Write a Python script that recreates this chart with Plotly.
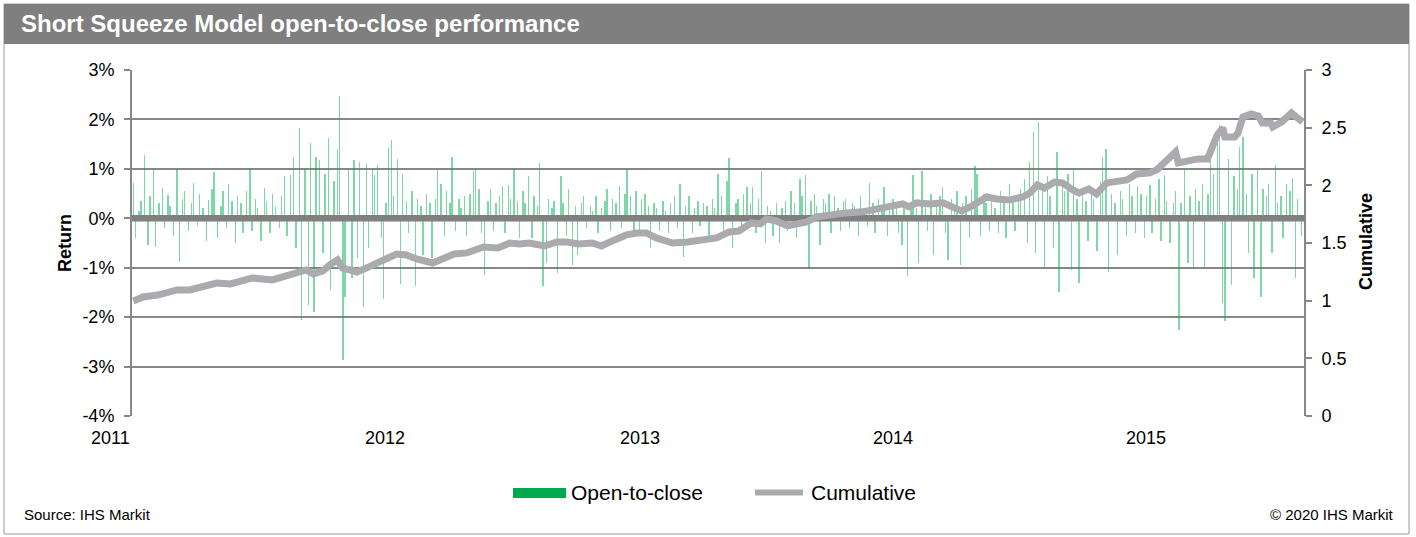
import pandas as pd
import plotly.graph_objects as go

# ---------------- data ----------------
years = [2011, 2012, 2013, 2014, 2015]

ret_2011 = [0.72, -0.40, 0.15, 0.35, 1.28, -0.55, 0.45, 0.98, -0.58, 0.30,
            0.62, -0.20, 0.48, 0.25, -0.35, 1.00, -0.88, 0.40, 0.55, -0.25,
            0.30, 0.72, -0.15, 0.50, 0.20, -0.45, 0.38, 0.60, 0.94, -0.40,
            0.25, 0.55, -0.20, 0.70, 0.35, -0.50, 0.45, 0.30, -0.30, 0.55,
            1.02, -0.25, 0.40, 0.20, -0.45, 0.62, 0.35, -0.30, 0.50, 0.25,
            -0.20, 0.45, 0.85, -0.35, 0.88, 1.25, -0.60, 1.82, -2.06, 1.00,
            -1.75, 1.52, -1.90, 1.25, 1.18, -0.70, 0.90, 1.62, -1.45, 0.75,
            1.40, 2.47, -2.87, -1.60, 1.00, -1.20, 1.18, -0.80, 1.13, -1.80,
            1.10, -0.60, 1.00, 0.87, 1.08, -0.40, -1.63]
ret_2012 = [0.30, 1.42, 1.58, 0.45, 1.20, -1.33, 0.90, 0.35, -0.30, 0.55,
            -1.37, 0.40, 0.25, -0.75, 0.50, 0.30, -0.80, 0.40, 0.97, 0.70,
            -0.35, 0.55, 0.30, 1.25, -0.25, 0.40, 0.20, 0.45, -0.35, 0.50,
            0.95, 1.00, 0.60, -0.30, -1.15, 0.35, 0.60, -0.25, 0.30, 0.45,
            0.65, -0.30, 0.68, 0.40, 1.00, 0.35, -0.40, 0.55, 0.30, 0.86,
            -0.40, 0.45, 0.25, 1.12, -1.37, -0.90, 0.40, 0.20, 0.35, -1.10,
            0.86, 0.30, -0.35, 0.60, -0.95, 0.25, -0.75, 0.30, 0.45, -0.20,
            0.25, 0.15, 0.45, -0.30, 0.20, 0.35, 0.60, -0.25, 0.40, 0.30,
            0.65, -0.20, 0.50, 1.00, 0.45, -0.35, 0.55]
ret_2013 = [-0.30, 0.40, 0.50, 0.25, -0.60, 0.30, 0.20, -0.25, 0.35, 0.15,
            -0.30, 0.30, 0.45, -0.20, 0.70, -0.78, 0.25, 0.45, -0.30, 0.20,
            0.35, -0.15, 0.30, 0.25, -0.35, 0.40, 0.20, 0.90, 0.45, -0.25,
            0.75, 1.22, -0.60, 0.30, 0.40, -0.20, 0.50, 0.63, 0.30, 0.63,
            -0.30, 0.40, 0.95, -0.50, 0.25, 0.15, -0.35, 0.30, -0.50, 0.20,
            0.35, -0.25, 0.55, 0.30, -0.40, 0.80, 0.45, 0.87, -1.00, 0.35,
            0.50, 0.25, -0.55, 0.40, 0.30, 0.50, -0.30, 0.45, 0.20, -0.25,
            0.35, 0.40, -0.20, 0.30, 0.25, -0.35, 0.45, 0.20, -0.15, 0.72,
            0.30, -0.30, 0.40, 0.25, 0.63, -0.35, 0.30]
ret_2014 = [0.40, 0.25, -0.30, -0.55, 0.35, -1.17, 0.30, 0.87, 0.20, -0.90,
            0.95, 0.35, -0.25, 0.50, -0.75, 0.30, 0.45, 0.63, -0.30, -0.85,
            0.40, 0.25, 0.55, -0.95, 0.30, 0.45, -0.40, 0.60, 1.05, 0.90,
            -0.35, 0.50, 0.30, -0.25, 0.45, 0.20, -0.30, 0.55, 0.35, -0.40,
            0.70, 0.30, -0.25, 0.45, 0.60, 0.80, -0.50, 1.14, 1.74, -0.70,
            1.95, 0.60, -1.00, 0.85, 0.45, -0.60, 1.35, -1.49, 0.70, 0.55,
            0.90, -1.05, 1.02, 0.40, -1.30, 0.50, 0.35, -0.45, 0.60, 0.40,
            -0.66, 0.75, 1.25, 1.40, -1.08, 0.50, 0.30, -0.75, 0.55, 0.40,
            -0.35, 0.70, 0.45, -0.30, 0.65, 0.50, -0.40]
ret_2015 = [0.45, 0.68, -0.30, 0.40, 0.80, -0.45, 0.88, 0.35, -0.50, 0.30,
            0.55, -2.26, 0.30, 1.00, -0.90, 0.45, -1.00, 0.60, 0.35, 0.70,
            -1.00, 0.50, 1.28, 0.90, 1.52, 1.88, -1.72, -2.08, 1.20, -1.35,
            0.85, 0.60, 1.45, 1.65, 0.50, -0.70, 0.90, -1.20, 1.00, -1.60,
            0.60, 0.45, 0.70, -0.70, 1.08, 0.30, 0.45, -0.40, 0.70, 0.55,
            0.82, -1.20, 0.40, -0.35]

# cumulative performance (right axis)
cum_dates = ["2011-01-03", "2011-01-17", "2011-02-07", "2011-02-21", "2011-03-07",
             "2011-03-25", "2011-04-08", "2011-05-03", "2011-05-23", "2011-06-09",
             "2011-06-23", "2011-07-08", "2011-07-22", "2011-08-11", "2011-08-26",
             "2011-09-09", "2011-09-19", "2011-10-03", "2011-10-13", "2011-10-24",
             "2011-10-31", "2011-11-21", "2011-12-05", "2011-12-23", "2012-01-03",
             "2012-01-17", "2012-01-31", "2012-02-15", "2012-03-09", "2012-03-23",
             "2012-04-09", "2012-04-27", "2012-05-11", "2012-05-21", "2012-06-11",
             "2012-06-28", "2012-07-12", "2012-07-26", "2012-08-17", "2012-09-04",
             "2012-09-19", "2012-10-05", "2012-10-25", "2012-11-07", "2012-11-23",
             "2012-12-13", "2012-12-28", "2013-01-11", "2013-01-25", "2013-02-18",
             "2013-03-11", "2013-04-02", "2013-04-22", "2013-05-10", "2013-05-24",
             "2013-06-11", "2013-06-24", "2013-07-03", "2013-07-17", "2013-08-02",
             "2013-08-15", "2013-08-30", "2013-09-13", "2013-10-02", "2013-10-25",
             "2013-11-18", "2013-12-09", "2013-12-27", "2014-01-15", "2014-01-24",
             "2014-02-04", "2014-02-24", "2014-03-14", "2014-03-24", "2014-04-10",
             "2014-04-25", "2014-05-16", "2014-05-30", "2014-06-18", "2014-07-07",
             "2014-07-17", "2014-07-28", "2014-08-07", "2014-08-22", "2014-09-02",
             "2014-09-17", "2014-09-26", "2014-10-10", "2014-10-21", "2014-11-05",
             "2014-11-19", "2014-12-04", "2014-12-18", "2015-01-06", "2015-01-16",
             "2015-01-30", "2015-02-12", "2015-02-16", "2015-03-02", "2015-03-16",
             "2015-03-30", "2015-04-06", "2015-04-13", "2015-04-21", "2015-04-24",
             "2015-05-08", "2015-05-13", "2015-05-20", "2015-06-01", "2015-06-11",
             "2015-06-17", "2015-06-29", "2015-07-02", "2015-07-15", "2015-07-29",
             "2015-08-05", "2015-08-14"]
cum_values = [0.997, 1.032, 1.049, 1.067, 1.093,
              1.093, 1.110, 1.153, 1.145, 1.171,
              1.197, 1.188, 1.180, 1.214, 1.249,
              1.266, 1.232, 1.258, 1.310, 1.353,
              1.284, 1.249, 1.284, 1.336, 1.353,
              1.405, 1.396, 1.362, 1.327, 1.362,
              1.405, 1.414, 1.440, 1.466, 1.457,
              1.500, 1.492, 1.500, 1.474, 1.509,
              1.509, 1.492, 1.500, 1.474, 1.518,
              1.570, 1.587, 1.587, 1.544, 1.500,
              1.509, 1.535, 1.544, 1.596, 1.604,
              1.674, 1.665, 1.709, 1.691, 1.648,
              1.665, 1.683, 1.726, 1.744, 1.761,
              1.770, 1.795, 1.804, 1.839, 1.813,
              1.848, 1.839, 1.848, 1.822, 1.778,
              1.822, 1.899, 1.882, 1.873, 1.899,
              1.934, 2.003, 1.977, 2.029, 2.021,
              1.960, 1.934, 1.969, 1.925, 2.021,
              2.038, 2.047, 2.099, 2.108, 2.134,
              2.220, 2.290, 2.194, 2.212, 2.229,
              2.229, 2.333, 2.437, 2.498, 2.420,
              2.420, 2.454, 2.593, 2.619, 2.602,
              2.541, 2.541, 2.506, 2.550, 2.628,
              2.593, 2.550]

ret_ticks = [-4, -3, -2, -1, 0, 1, 2, 3]
ret_ticklabels = ["-4%", "-3%", "-2%", "-1%", "0%", "1%", "2%", "3%"]
cum_ticks = [0, 0.5, 1, 1.5, 2, 2.5, 3]
cum_ticklabels = ["0", "0.5", "1", "1.5", "2", "2.5", "3"]
year_labels = ["2011", "2012", "2013", "2014", "2015"]
x_range = ["2011-01-01", "2015-08-16"]

title_text = "Short Squeeze Model open-to-close performance"
series_names = ["Open-to-close", "Cumulative"]

# ---------------- layout helpers ----------------
W, H = 1416, 537
L, R, T, B = 132, 1304, 70, 416
FONT = "Liberation Sans, Arial, sans-serif"


def px(x):
    return (x - L) / (R - L)


def py(y):
    return (B - y) / (B - T)


bar_dates, bar_values = [], []
for yr, vals in zip(years, [ret_2011, ret_2012, ret_2013, ret_2014, ret_2015]):
    d = pd.date_range(f"{yr}-01-01", periods=len(vals), freq="3B")
    bar_dates += list(d)
    bar_values += vals

GREEN = "#00a94f"
GREY_LINE = "#ababaf"
AXIS = "#878787"

fig = go.Figure()
fig.add_trace(go.Bar(
    x=bar_dates, y=bar_values, name=series_names[0],
    width=2 * 86400000,
    marker=dict(color="rgba(0,176,80,0.5)", line=dict(width=0)),
    showlegend=False, hoverinfo="skip"))
fig.add_trace(go.Scatter(
    x=x_range, y=[0, 0], mode="lines",
    line=dict(color="#808080", width=6.5),
    showlegend=False, hoverinfo="skip"))
fig.add_trace(go.Scatter(
    x=cum_dates, y=cum_values, name=series_names[1], yaxis="y2",
    mode="lines", line=dict(color=GREY_LINE, width=7),
    showlegend=False, hoverinfo="skip"))

shapes = [
    # outer frame
    dict(type="rect", xref="paper", yref="paper",
         x0=px(4), x1=px(1409), y0=py(534), y1=py(4),
         line=dict(color="#9a9a9a", width=1), fillcolor="rgba(0,0,0,0)", layer="below"),
    # title bar
    dict(type="rect", xref="paper", yref="paper",
         x0=px(4), x1=px(1409), y0=py(44), y1=py(4),
         line=dict(width=0), fillcolor="#7f7f7f", layer="below"),
    # legend swatches
    dict(type="rect", xref="paper", yref="paper",
         x0=px(513), x1=px(566), y0=py(498), y1=py(488),
         line=dict(width=0), fillcolor=GREEN),
    dict(type="line", xref="paper", yref="paper",
         x0=px(755), x1=px(803), y0=py(492.5), y1=py(492.5),
         line=dict(color=GREY_LINE, width=6)),
]

annotations = [
    dict(text=f"<b>{title_text}</b>", xref="paper", yref="paper",
         x=px(19), y=py(24), xanchor="left", yanchor="middle", showarrow=False,
         font=dict(family=FONT, size=24, color="white")),
    dict(text="<b>Return</b>", xref="paper", yref="paper", x=px(65), y=py(243),
         textangle=-90, showarrow=False, xanchor="center", yanchor="middle",
         font=dict(family=FONT, size=18, color="black")),
    dict(text="<b>Cumulative</b>", xref="paper", yref="paper", x=px(1366), y=py(242),
         textangle=-90, showarrow=False, xanchor="center", yanchor="middle",
         font=dict(family=FONT, size=18, color="black")),
    dict(text=series_names[0], xref="paper", yref="paper", x=px(569), y=py(493),
         xanchor="left", yanchor="middle", showarrow=False,
         font=dict(family=FONT, size=21, color="black")),
    dict(text=series_names[1], xref="paper", yref="paper", x=px(809), y=py(493),
         xanchor="left", yanchor="middle", showarrow=False,
         font=dict(family=FONT, size=21, color="black")),
    dict(text="Source: IHS Markit", xref="paper", yref="paper", x=px(22), y=py(514),
         xanchor="left", yanchor="middle", showarrow=False,
         font=dict(family=FONT, size=15, color="black")),
    dict(text="\u00a9 2020 IHS Markit", xref="paper", yref="paper", x=px(1396), y=py(514),
         xanchor="right", yanchor="middle", showarrow=False,
         font=dict(family=FONT, size=15, color="black")),
]
for i, lab in enumerate(year_labels):
    annotations.append(dict(
        text=lab, xref="x", yref="paper", x=f"{lab}-01-01", y=py(438),
        xanchor="right" if i == 0 else "center", yanchor="middle", showarrow=False,
        font=dict(family=FONT, size=18, color="black")))

fig.update_layout(
    width=W, height=H, autosize=False,
    margin=dict(l=L, r=W - R, t=T, b=H - B, pad=0),
    paper_bgcolor="white", plot_bgcolor="white",
    font=dict(family=FONT, size=18, color="black"),
    showlegend=False,
    bargap=0,
    xaxis=dict(type="date", range=x_range, showgrid=False, showticklabels=False,
               showline=False, zeroline=False, ticks=""),
    yaxis=dict(range=[-4, 3], tickmode="array", tickvals=ret_ticks, ticktext=ret_ticklabels,
               showgrid=True, gridcolor=AXIS, gridwidth=2,
               showline=True, linecolor=AXIS, linewidth=2,
               ticks="outside", ticklen=6, tickwidth=2, tickcolor=AXIS,
               zeroline=False, tickfont=dict(family=FONT, size=18, color="black"),
               ticklabelstandoff=6),
    yaxis2=dict(range=[0, 3], overlaying="y", side="right", tickmode="array",
                tickvals=cum_ticks, ticktext=cum_ticklabels, showgrid=False,
                showline=True, linecolor=AXIS, linewidth=2,
                ticks="outside", ticklen=6, tickwidth=2, tickcolor=AXIS,
                zeroline=False, tickfont=dict(family=FONT, size=18, color="black"),
                ticklabelstandoff=6),
    shapes=shapes,
    annotations=annotations,
)

fig.write_html("out.html",
               config={"displayModeBar": False, "staticPlot": False},
               post_script="document.body.style.margin='0';document.body.style.padding='0';")
